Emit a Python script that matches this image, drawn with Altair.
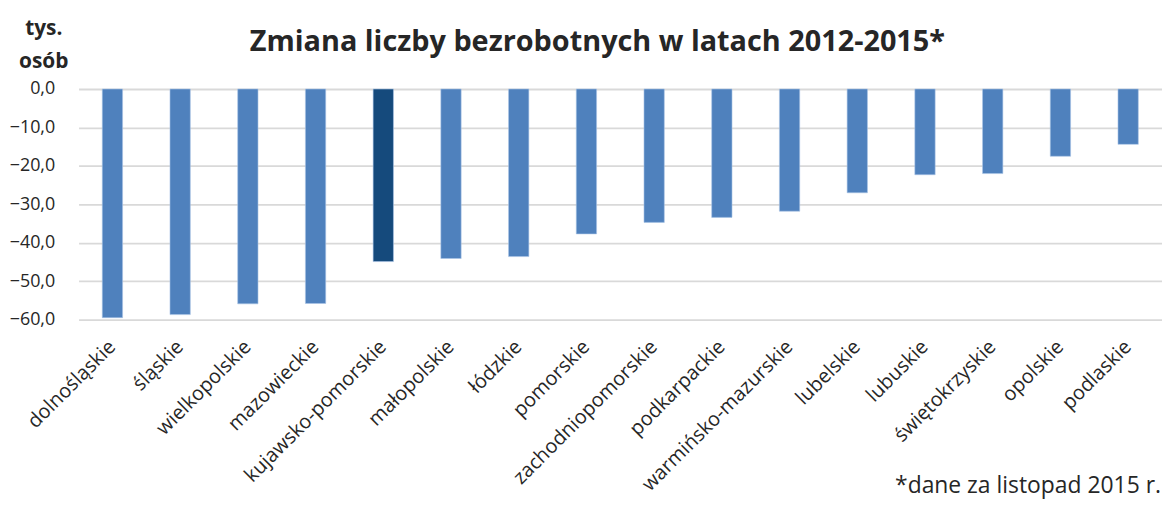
import altair as alt
import pandas as pd

regions = ["dolnośląskie", "śląskie", "wielkopolskie", "mazowieckie", "kujawsko-pomorskie",
           "małopolskie", "łódzkie", "pomorskie", "zachodniopomorskie", "podkarpackie",
           "warmińsko-mazurskie", "lubelskie", "lubuskie", "świętokrzyskie", "opolskie", "podlaskie"]
values = [-59.5, -58.7, -55.9, -55.8, -44.9, -44.1, -43.6, -37.7, -34.7, -33.4,
          -31.8, -27.0, -22.3, -22.0, -17.5, -14.4]
highlight = "kujawsko-pomorskie"
y_ticks = [0, -10, -20, -30, -40, -50, -60]
title_text = "Zmiana liczby bezrobotnych w latach 2012-2015*"
unit_lines = ["tys.", "osób"]
note_text = "*dane za listopad 2015 r."

df = pd.DataFrame({"region": regions, "value": values})

FONT = "Open Sans"
TXT = "#262626"
W, H = 1090, 232

bars = alt.Chart(df).mark_bar(stroke="#a9c4e6", strokeWidth=0.6).encode(
    x=alt.X("region:N", sort=regions,
            scale=alt.Scale(paddingInner=0.7, paddingOuter=0.35),
            axis=alt.Axis(title=None, labelAngle=-45, labelAlign="right", labelBaseline="middle",
                          labelPadding=24, labelLimit=0, ticks=False, domain=False, grid=False,
                          labelFont=FONT, labelFontSize=20, labelColor=TXT)),
    y=alt.Y("value:Q", scale=alt.Scale(domain=[-60, 0], nice=False),
            axis=alt.Axis(title=None, values=y_ticks, domain=False, ticks=False,
                          gridColor="#d9d9d9", gridWidth=1.8, labelPadding=24,
                          labelExpr="replace(format(datum.value, '.1f'), '.', ',')",
                          labelFont=FONT, labelFontSize=18, labelColor=TXT)),
    color=alt.condition(alt.datum.region == highlight, alt.value("#154a7c"), alt.value("#4f81bd")),
)

title = alt.Chart(pd.DataFrame({"t": [title_text]})).mark_text(
    font=FONT, fontSize=29, fontWeight="bold", color=TXT, align="center", baseline="alphabetic"
).encode(text="t:N", x=alt.value(522), y=alt.value(-38))

unit1 = alt.Chart(pd.DataFrame({"t": [unit_lines[0]]})).mark_text(
    font=FONT, fontSize=21, fontWeight="bold", color=TXT, align="center", baseline="alphabetic"
).encode(text="t:N", x=alt.value(-35), y=alt.value(-54))
unit2 = alt.Chart(pd.DataFrame({"t": [unit_lines[1]]})).mark_text(
    font=FONT, fontSize=21, fontWeight="bold", color=TXT, align="center", baseline="alphabetic"
).encode(text="t:N", x=alt.value(-35), y=alt.value(-21))
note = alt.Chart(pd.DataFrame({"t": [note_text]})).mark_text(
    font=FONT, fontSize=23, color=TXT, align="right", baseline="alphabetic"
).encode(text="t:N", x=alt.value(1089), y=alt.value(406))

chart = alt.layer(bars, title, unit1, unit2, note).properties(
    width=W, height=H,
    autosize=alt.AutoSizeParams(type="none"),
    padding={"left": 71, "top": 80, "right": 0, "bottom": 184},
).configure_view(stroke=None)

chart.save("out.html", embed_options={"renderer": "svg", "actions": False})
